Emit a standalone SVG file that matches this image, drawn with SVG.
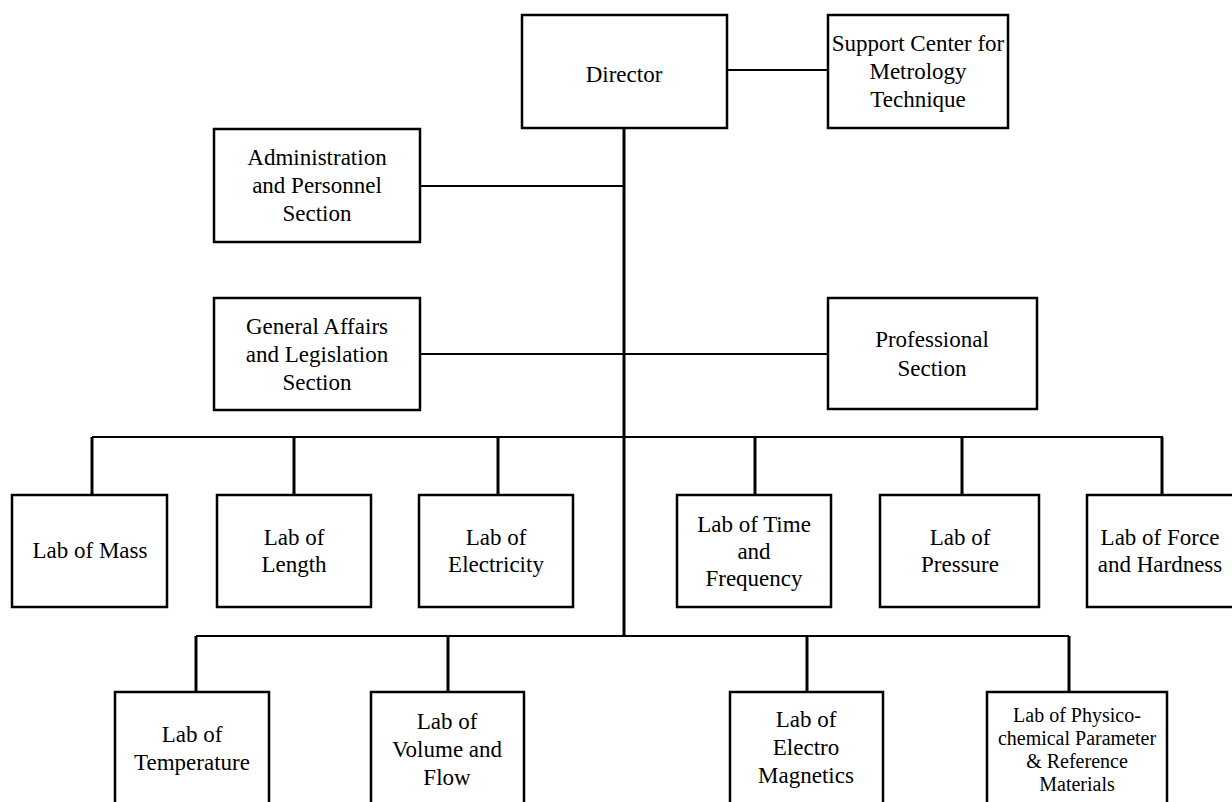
<svg xmlns="http://www.w3.org/2000/svg" width="1232" height="802" viewBox="0 0 1232 802">
<style>
.box{fill:#fff;stroke:#000;stroke-width:2.5}
.ln{stroke:#000;stroke-width:2;fill:none}
.vl{stroke:#000;stroke-width:3;fill:none}
text{font-family:"Liberation Serif","Times New Roman",serif;font-size:23px;fill:#000;text-anchor:middle;dominant-baseline:central}
.sm{font-size:20px}
</style>
<rect width="1232" height="802" fill="#fff"/>
<g id="connectors">
<line class="vl" x1="624" y1="128" x2="624" y2="636"/>
<line class="ln" x1="727" y1="70" x2="828" y2="70"/>
<line class="ln" x1="420" y1="186" x2="624" y2="186"/>
<line class="ln" x1="420" y1="354" x2="828" y2="354"/>
<line class="ln" x1="92" y1="437" x2="1163" y2="437"/>
<line class="vl" x1="92" y1="437" x2="92" y2="495"/>
<line class="vl" x1="294" y1="437" x2="294" y2="495"/>
<line class="vl" x1="498" y1="437" x2="498" y2="495"/>
<line class="vl" x1="755" y1="437" x2="755" y2="495"/>
<line class="vl" x1="962" y1="437" x2="962" y2="495"/>
<line class="vl" x1="1162" y1="437" x2="1162" y2="495"/>
<line class="ln" x1="196" y1="636" x2="1069" y2="636"/>
<line class="vl" x1="196" y1="636" x2="196" y2="692"/>
<line class="vl" x1="448" y1="636" x2="448" y2="692"/>
<line class="vl" x1="807" y1="636" x2="807" y2="692"/>
<line class="vl" x1="1069" y1="636" x2="1069" y2="692"/>
</g>
<g id="director"><rect class="box" x="522" y="15" width="205" height="113"/><text x="624" y="74">Director</text></g>
<g id="support"><rect class="box" x="828" y="15" width="180" height="113"/><text x="918" y="43">Support Center for</text><text x="918" y="71">Metrology</text><text x="918" y="99">Technique</text></g>
<g id="admin"><rect class="box" x="214" y="129" width="206" height="113"/><text x="317" y="157">Administration</text><text x="317" y="185">and Personnel</text><text x="317" y="213">Section</text></g>
<g id="general"><rect class="box" x="214" y="298" width="206" height="112"/><text x="317" y="326">General Affairs</text><text x="317" y="354">and Legislation</text><text x="317" y="382">Section</text></g>
<g id="professional"><rect class="box" x="828" y="298" width="209" height="111"/><text x="932" y="339">Professional</text><text x="932" y="368">Section</text></g>
<g id="mass"><rect class="box" x="12" y="495" width="155" height="112"/><text x="90" y="550">Lab of Mass</text></g>
<g id="length"><rect class="box" x="217" y="495" width="154" height="112"/><text x="294" y="537">Lab of</text><text x="294" y="564">Length</text></g>
<g id="electricity"><rect class="box" x="419" y="495" width="154" height="112"/><text x="496" y="537">Lab of</text><text x="496" y="564">Electricity</text></g>
<g id="time"><rect class="box" x="677" y="495" width="154" height="112"/><text x="754" y="524">Lab of Time</text><text x="754" y="551">and</text><text x="754" y="578">Frequency</text></g>
<g id="pressure"><rect class="box" x="880" y="495" width="159" height="112"/><text x="960" y="537">Lab of</text><text x="960" y="564">Pressure</text></g>
<g id="force"><rect class="box" x="1087" y="495" width="160" height="112"/><text x="1160" y="537">Lab of Force</text><text x="1160" y="564">and Hardness</text></g>
<g id="temperature"><rect class="box" x="115" y="692" width="154" height="130"/><text x="192" y="734">Lab of</text><text x="192" y="762">Temperature</text></g>
<g id="volume"><rect class="box" x="371" y="692" width="153" height="130"/><text x="447" y="721">Lab of</text><text x="447" y="749">Volume and</text><text x="447" y="777">Flow</text></g>
<g id="electromagnetics"><rect class="box" x="730" y="692" width="153" height="130"/><text x="806" y="719">Lab of</text><text x="806" y="747">Electro</text><text x="806" y="775">Magnetics</text></g>
<g id="physico"><rect class="box" x="987" y="692" width="180" height="130"/><text class="sm" x="1077" y="715">Lab of Physico-</text><text class="sm" x="1077" y="738">chemical Parameter</text><text class="sm" x="1077" y="761">&amp; Reference</text><text class="sm" x="1077" y="784">Materials</text></g>
</svg>
